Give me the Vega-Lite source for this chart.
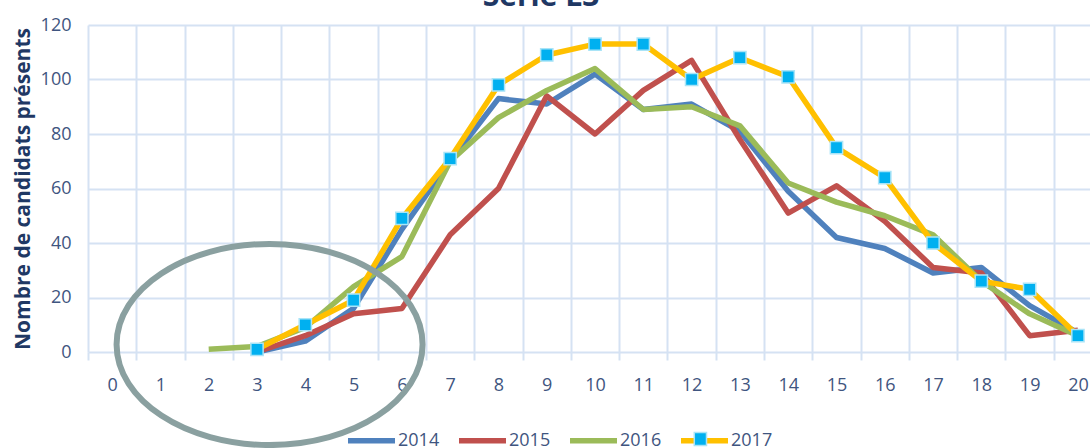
{
  "$schema": "https://vega.github.io/schema/vega-lite/v6.json",
  "autosize": "none",
  "width": 1002,
  "height": 327,
  "padding": {"left": 88, "top": 25, "right": 0, "bottom": 96},
  "background": "white",
  "config": {
    "view": {"stroke": null},
    "font": "Open Sans"
  },
  "title": {
    "text": "Série L3",
    "fontSize": 30,
    "fontWeight": "bold",
    "color": "#1F3864",
    "anchor": "middle",
    "dx": -48,
    "offset": -20,
    "baseline": "alphabetic",
    "font": "Open Sans"
  },
  "datasets": {
    "series": [
      {"x": 3, "year": "2014", "v": 0},
      {"x": 4, "year": "2014", "v": 4},
      {"x": 5, "year": "2014", "v": 16},
      {"x": 6, "year": "2014", "v": 45},
      {"x": 7, "year": "2014", "v": 70},
      {"x": 8, "year": "2014", "v": 93},
      {"x": 9, "year": "2014", "v": 91},
      {"x": 10, "year": "2014", "v": 102},
      {"x": 11, "year": "2014", "v": 89},
      {"x": 12, "year": "2014", "v": 91},
      {"x": 13, "year": "2014", "v": 81},
      {"x": 14, "year": "2014", "v": 59},
      {"x": 15, "year": "2014", "v": 42},
      {"x": 16, "year": "2014", "v": 38},
      {"x": 17, "year": "2014", "v": 29},
      {"x": 18, "year": "2014", "v": 31},
      {"x": 19, "year": "2014", "v": 17},
      {"x": 20, "year": "2014", "v": 7},
      {"x": 3, "year": "2015", "v": 0},
      {"x": 4, "year": "2015", "v": 6},
      {"x": 5, "year": "2015", "v": 14},
      {"x": 6, "year": "2015", "v": 16},
      {"x": 7, "year": "2015", "v": 43},
      {"x": 8, "year": "2015", "v": 60},
      {"x": 9, "year": "2015", "v": 94},
      {"x": 10, "year": "2015", "v": 80},
      {"x": 11, "year": "2015", "v": 96},
      {"x": 12, "year": "2015", "v": 107},
      {"x": 13, "year": "2015", "v": 78},
      {"x": 14, "year": "2015", "v": 51},
      {"x": 15, "year": "2015", "v": 61},
      {"x": 16, "year": "2015", "v": 48},
      {"x": 17, "year": "2015", "v": 31},
      {"x": 18, "year": "2015", "v": 29},
      {"x": 19, "year": "2015", "v": 6},
      {"x": 20, "year": "2015", "v": 8},
      {"x": 2, "year": "2016", "v": 1},
      {"x": 3, "year": "2016", "v": 2},
      {"x": 4, "year": "2016", "v": 9},
      {"x": 5, "year": "2016", "v": 24},
      {"x": 6, "year": "2016", "v": 35},
      {"x": 7, "year": "2016", "v": 70},
      {"x": 8, "year": "2016", "v": 86},
      {"x": 9, "year": "2016", "v": 96},
      {"x": 10, "year": "2016", "v": 104},
      {"x": 11, "year": "2016", "v": 89},
      {"x": 12, "year": "2016", "v": 90},
      {"x": 13, "year": "2016", "v": 83},
      {"x": 14, "year": "2016", "v": 62},
      {"x": 15, "year": "2016", "v": 55},
      {"x": 16, "year": "2016", "v": 50},
      {"x": 17, "year": "2016", "v": 43},
      {"x": 18, "year": "2016", "v": 26},
      {"x": 19, "year": "2016", "v": 14},
      {"x": 20, "year": "2016", "v": 6},
      {"x": 3, "year": "2017", "v": 1},
      {"x": 4, "year": "2017", "v": 10},
      {"x": 5, "year": "2017", "v": 19},
      {"x": 6, "year": "2017", "v": 49},
      {"x": 7, "year": "2017", "v": 71},
      {"x": 8, "year": "2017", "v": 98},
      {"x": 9, "year": "2017", "v": 109},
      {"x": 10, "year": "2017", "v": 113},
      {"x": 11, "year": "2017", "v": 113},
      {"x": 12, "year": "2017", "v": 100},
      {"x": 13, "year": "2017", "v": 108},
      {"x": 14, "year": "2017", "v": 101},
      {"x": 15, "year": "2017", "v": 75},
      {"x": 16, "year": "2017", "v": 64},
      {"x": 17, "year": "2017", "v": 40},
      {"x": 18, "year": "2017", "v": 26},
      {"x": 19, "year": "2017", "v": 23},
      {"x": 20, "year": "2017", "v": 6}
    ],
    "note": [{"x": 3.26, "v": 2.75}]
  },
  "layer": [
    {
      "data": {"name": "series"},
      "mark": {"type": "line", "strokeWidth": 5.5, "strokeJoin": "round"},
      "encoding": {
        "x": {
          "field": "x", "type": "quantitative",
          "scale": {"domain": [-0.5, 20.25], "nice": false, "zero": false},
          "axis": {
            "orient": "bottom",
            "values": [-0.5, 0.5, 1.5, 2.5, 3.5, 4.5, 5.5, 6.5, 7.5, 8.5, 9.5, 10.5, 11.5, 12.5, 13.5, 14.5, 15.5, 16.5, 17.5, 18.5, 19.5],
            "grid": true, "gridColor": "#D5E2F3", "gridWidth": 2,
            "ticks": true, "tickSize": 8, "tickColor": "#D5E2F3", "tickWidth": 2,
            "labels": false, "domain": false, "title": null
          }
        },
        "y": {
          "field": "v", "type": "quantitative",
          "scale": {"domain": [0, 120], "nice": false},
          "axis": {
            "values": [0, 20, 40, 60, 80, 100, 120],
            "grid": true, "gridColor": "#D5E2F3", "gridWidth": 2,
            "ticks": false, "domain": false,
            "labelFontSize": 18, "labelColor": "#3F5580", "labelPadding": 17, "labelFlush": false,
            "title": "Nombre de candidats présents",
            "titleFontSize": 21, "titleFontWeight": "bold", "titleColor": "#1F3864", "titlePadding": 7
          }
        },
        "color": {
          "field": "year", "type": "nominal",
          "scale": {"domain": ["2014", "2015", "2016", "2017"], "range": ["#4F81BD", "#C0504D", "#9BBB59", "#FFC000"]},
          "legend": {
            "orient": "none", "legendX": 257, "legendY": 389, "direction": "horizontal",
            "title": null, "padding": 0,
            "symbolType": "stroke", "symbolSize": 2209, "symbolStrokeWidth": 5.5,
            "labelFontSize": 18, "labelColor": "#3F5580", "labelOffset": 0, "columnPadding": 8
          }
        }
      }
    },
    {
      "data": {"name": "series"},
      "transform": [{"filter": "datum.year == '2017'"}],
      "mark": {"type": "point", "shape": "square", "filled": true, "size": 150, "strokeWidth": 1.5, "opacity": 1},
      "encoding": {
        "x": {
          "field": "x", "type": "quantitative",
          "scale": {"domain": [-0.5, 20.25], "nice": false, "zero": false},
          "axis": {
            "orient": "bottom",
            "values": [0, 1, 2, 3, 4, 5, 6, 7, 8, 9, 10, 11, 12, 13, 14, 15, 16, 17, 18, 19, 20],
            "grid": false, "ticks": false, "domain": false,
            "labelFontSize": 18, "labelColor": "#3F5580", "labelPadding": 24, "labelFlush": false,
            "title": null
          }
        },
        "y": {
          "field": "v", "type": "quantitative",
          "scale": {"domain": [0, 120], "nice": false},
          "axis": {
            "values": [0, 20, 40, 60, 80, 100, 120],
            "grid": true, "gridColor": "#D5E2F3", "gridWidth": 2,
            "ticks": false, "domain": false,
            "labelFontSize": 18, "labelColor": "#3F5580", "labelPadding": 17, "labelFlush": false,
            "title": "Nombre de candidats présents",
            "titleFontSize": 21, "titleFontWeight": "bold", "titleColor": "#1F3864", "titlePadding": 7
          }
        },
        "fill": {
          "field": "year", "type": "nominal",
          "scale": {"domain": ["2014", "2015", "2016", "2017", ""], "range": ["transparent", "transparent", "transparent", "#00B0F0", "transparent"]},
          "legend": {
            "orient": "none", "legendX": 257, "legendY": 389, "direction": "horizontal",
            "title": null, "padding": 0,
            "symbolType": "M-0.26,-0.28H0.26V0.28H-0.26Z", "symbolSize": 2209, "symbolStrokeWidth": 1.5,
            "labelFontSize": 18, "labelOpacity": 0, "labelOffset": 0, "columnPadding": 19.3
          }
        },
        "stroke": {
          "field": "year", "type": "nominal",
          "scale": {"domain": ["2014", "2015", "2016", "2017", ""], "range": ["transparent", "transparent", "transparent", "#A9E4F7", "transparent"]},
          "legend": {
            "orient": "none", "legendX": 257, "legendY": 389, "direction": "horizontal",
            "title": null, "padding": 0,
            "symbolType": "M-0.26,-0.28H0.26V0.28H-0.26Z", "symbolSize": 2209, "symbolStrokeWidth": 1.5,
            "labelFontSize": 18, "labelOpacity": 0, "labelOffset": 0, "columnPadding": 19.3
          }
        }
      }
    },
    {
      "data": {"name": "note"},
      "mark": {"type": "point", "shape": "M-1,0A1,0.657,0,1,1,1,0A1,0.657,0,1,1,-1,0Z", "size": 93636, "filled": false, "stroke": "#8AA0A0", "strokeWidth": 6, "opacity": 1},
      "encoding": {
        "x": {"field": "x", "type": "quantitative", "scale": {"domain": [-0.5, 20.25], "nice": false, "zero": false}, "axis": null},
        "y": {
          "field": "v", "type": "quantitative",
          "scale": {"domain": [0, 120], "nice": false},
          "axis": {
            "values": [0, 20, 40, 60, 80, 100, 120],
            "grid": true, "gridColor": "#D5E2F3", "gridWidth": 2,
            "ticks": false, "domain": false,
            "labelFontSize": 18, "labelColor": "#3F5580", "labelPadding": 17, "labelFlush": false,
            "title": "Nombre de candidats présents",
            "titleFontSize": 21, "titleFontWeight": "bold", "titleColor": "#1F3864", "titlePadding": 7
          }
        }
      }
    }
  ],
  "resolve": {"axis": {"x": "independent"}}
}
